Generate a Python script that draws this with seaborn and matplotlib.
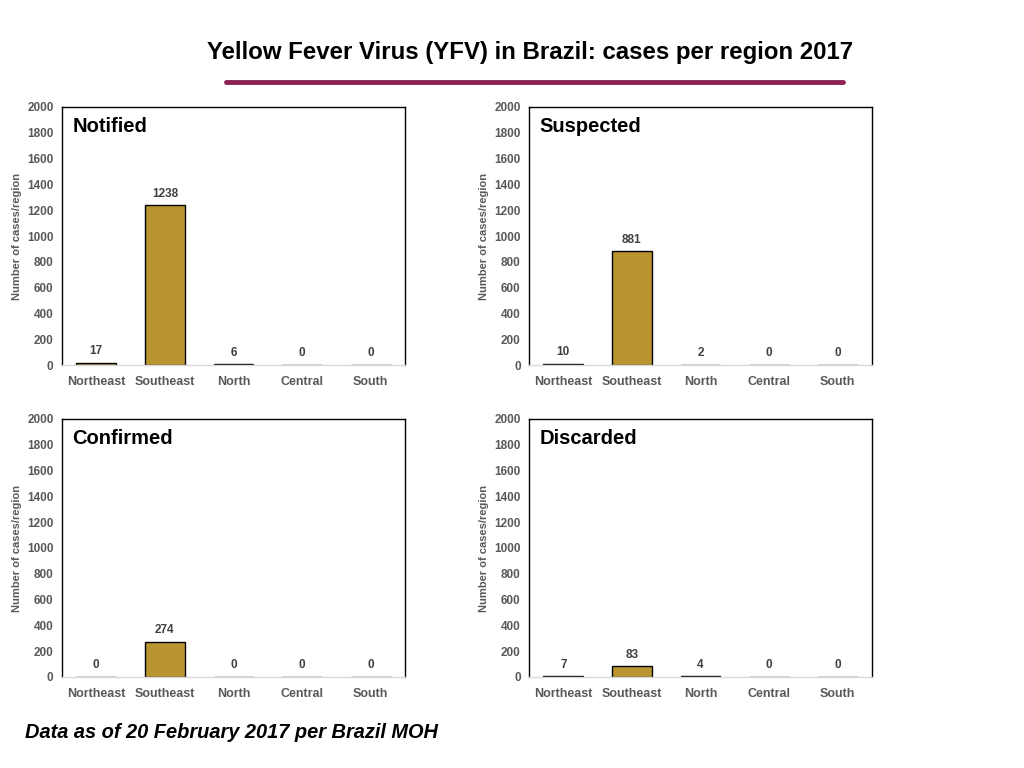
import matplotlib
matplotlib.use("Agg")
import matplotlib.pyplot as plt
import seaborn as sns
import pandas as pd

regions = ["Northeast", "Southeast", "North", "Central", "South"]
notified = [17, 1238, 6, 0, 0]
suspected = [10, 881, 2, 0, 0]
confirmed = [0, 274, 0, 0, 0]
discarded = [7, 83, 4, 0, 0]

panels = [
    ("Notified", notified),
    ("Suspected", suspected),
    ("Confirmed", confirmed),
    ("Discarded", discarded),
]

sns.set_style("white")
plt.rcParams["font.family"] = ["Liberation Sans", "DejaVu Sans"]

fig = plt.figure(figsize=(10.24, 7.68), dpi=100)

# axes positions in figure fractions (left, bottom, width, height)
positions = [
    (0.0605, 0.5247, 0.335, 0.336),
    (0.5166, 0.5247, 0.335, 0.336),
    (0.0605, 0.1185, 0.335, 0.336),
    (0.5166, 0.1185, 0.335, 0.336),
]

bar_color = "#B8952F"
gray = "#595959"

for (name, values), pos in zip(panels, positions):
    ax = fig.add_axes(pos)
    df = pd.DataFrame({"region": regions, "cases": values})
    sns.barplot(data=df, x="region", y="cases", color=bar_color,
                edgecolor="black", linewidth=1, width=0.58, saturation=1, ax=ax)
    ax.bar_label(ax.containers[0], padding=4, fontsize=8.5, fontweight="bold", color="#404040")
    ax.set_ylim(0, 2000)
    ax.set_xlim(-0.5, 4.5)
    ax.set_yticks(range(0, 2001, 200))
    ax.tick_params(axis="y", length=0, labelsize=8.5, labelcolor=gray, pad=6)
    ax.tick_params(axis="x", length=0, labelsize=9, labelcolor=gray, pad=8)
    for lab in ax.get_xticklabels() + ax.get_yticklabels():
        lab.set_fontweight("bold")
    ax.set_xlabel("")
    ax.set_ylabel("Number of cases/region", fontsize=8, fontweight="bold", color=gray, labelpad=4)
    for s in ["top", "left", "right"]:
        ax.spines[s].set_color("black")
        ax.spines[s].set_linewidth(1)
    ax.spines["bottom"].set_color("#d9d9d9")
    ax.spines["bottom"].set_linewidth(1)
    ax.text(0.03, 0.925, name, transform=ax.transAxes, fontsize=14.5,
            fontweight="bold", color="black", va="center", ha="left")

fig.text(0.518, 1 - 52 / 768, "Yellow Fever Virus (YFV) in Brazil: cases per region 2017",
         ha="center", va="center", fontsize=17.3, fontweight="bold", color="black")
fig.add_artist(plt.Line2D([226 / 1024, 843 / 1024], [1 - 82 / 768, 1 - 82 / 768],
                          color="#8B2252", linewidth=3.5))
fig.text(25 / 1024, 1 - 733 / 768, "Data as of 20 February 2017 per Brazil MOH",
         ha="left", va="center", fontsize=14.4, fontweight="bold", fontstyle="italic", color="black")

fig.savefig("out.png", dpi=100)
